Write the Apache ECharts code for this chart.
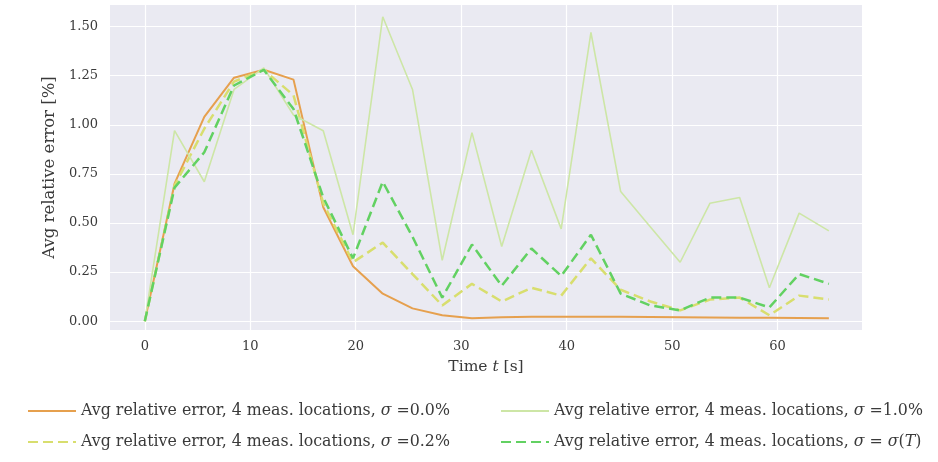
<!DOCTYPE html>
<html>
<head>
<meta charset="utf-8">
<script src="https://cdn.jsdelivr.net/npm/echarts@6/dist/echarts.min.js"></script>
<style>
html,body{margin:0;padding:0;background:#fff;}
#chart{width:938px;height:462px;}
</style>
</head>
<body>
<div id="chart"></div>
<script>
// Time axis (s)
var times = [0, 2.82, 5.64, 8.46, 11.28, 14.1, 16.92, 19.74, 22.56, 25.38, 28.2, 31.02,
             33.84, 36.66, 39.48, 42.3, 45.12, 47.94, 50.76, 53.58, 56.4, 59.22, 62.04, 64.86];
// Avg relative error [%]
var err00 = [0, 0.70, 1.04, 1.24, 1.28, 1.23, 0.58, 0.28, 0.14, 0.065, 0.03, 0.015,
             0.02, 0.022, 0.022, 0.022, 0.022, 0.021, 0.02, 0.019, 0.018, 0.017, 0.016, 0.015];
var err02 = [0, 0.69, 0.98, 1.22, 1.28, 1.15, 0.60, 0.30, 0.40, 0.24, 0.08, 0.19,
             0.10, 0.17, 0.13, 0.32, 0.16, 0.10, 0.055, 0.11, 0.12, 0.03, 0.13, 0.11];
var err10 = [0, 0.97, 0.71, 1.18, 1.29, 1.05, 0.97, 0.44, 1.55, 1.18, 0.31, 0.96,
             0.38, 0.87, 0.47, 1.47, 0.66, 0.48, 0.30, 0.60, 0.63, 0.17, 0.55, 0.46];
var errT  = [0, 0.68, 0.86, 1.20, 1.28, 1.08, 0.63, 0.32, 0.71, 0.43, 0.12, 0.39,
             0.18, 0.37, 0.23, 0.44, 0.14, 0.08, 0.055, 0.12, 0.12, 0.07, 0.24, 0.19];
var xTicks = [0, 10, 20, 30, 40, 50, 60];
var yTicks = [0, 0.25, 0.5, 0.75, 1.0, 1.25, 1.5];
var names = [
  'Avg relative error, 4 meas. locations, {i|σ} =0.0%',
  'Avg relative error, 4 meas. locations, {i|σ} =0.2%',
  'Avg relative error, 4 meas. locations, {i|σ} =1.0%',
  'Avg relative error, 4 meas. locations, {i|σ} = {i|σ}({i|T})'
];

function pairs(v){ return times.map(function(t,k){ return [t, v[k]]; }); }

var FONT = 'DejaVu Serif';
var TXT = '#3a3a3a';
var LFS = 15.8;
var legendText = {
  fontFamily: FONT, fontSize: LFS, color: TXT,
  rich: { i: { fontFamily: FONT, fontStyle: 'italic', fontSize: LFS, color: TXT } }
};

var chart = echarts.init(document.getElementById('chart'), null, {renderer: 'canvas'});
chart.setOption({
  animation: false,
  backgroundColor: '#ffffff',
  grid: { left: 110, right: 76, top: 5, bottom: 132, show: true, backgroundColor: '#eaeaf2', borderWidth: 0 },
  xAxis: {
    type: 'value', min: -3.3, max: 68,
    name: 'Time {i|t} [s]', nameLocation: 'middle', nameGap: 29,
    nameTextStyle: { fontFamily: FONT, fontSize: 15.5, color: TXT, rich: { i: { fontFamily: FONT, fontStyle: 'italic', fontSize: 15.5, color: TXT } } },
    axisLine: { show: false }, axisTick: { show: false, customValues: xTicks },
    axisLabel: { customValues: xTicks, fontFamily: FONT, fontSize: 13, color: TXT, margin: 10 },
    splitLine: { show: true, lineStyle: { color: '#ffffff', width: 1.2 } }
  },
  yAxis: {
    type: 'value', min: -0.045, max: 1.61,
    name: 'Avg relative error [%]', nameLocation: 'middle', nameGap: 52,
    nameTextStyle: { fontFamily: FONT, fontSize: 16.5, color: TXT },
    axisLine: { show: false }, axisTick: { show: false, customValues: yTicks },
    axisLabel: { customValues: yTicks, fontFamily: FONT, fontSize: 13, color: TXT, margin: 12,
      formatter: function(v){ return v.toFixed(2); } },
    splitLine: { show: true, lineStyle: { color: '#ffffff', width: 1.2 } }
  },
  legend: [
    { data: [names[0], names[1]], orient: 'vertical', left: 22, top: 398, itemWidth: 48, itemHeight: 14, itemGap: 15,
      itemStyle: { opacity: 0 }, textStyle: legendText },
    { data: [names[2], names[3]], orient: 'vertical', left: 495, top: 398, itemWidth: 48, itemHeight: 14, itemGap: 15,
      itemStyle: { opacity: 0 }, textStyle: legendText }
  ],
  series: [
    { name: names[0], type: 'line', data: pairs(err00), symbol: 'none', z: 2,
      lineStyle: { color: '#e6a04e', width: 2 }, itemStyle: { color: '#e6a04e' } },
    { name: names[1], type: 'line', data: pairs(err02), symbol: 'none', z: 3,
      lineStyle: { color: '#d8de6e', width: 2.5, type: [10, 5] }, itemStyle: { color: '#d8de6e' } },
    { name: names[2], type: 'line', data: pairs(err10), symbol: 'none', z: 4,
      lineStyle: { color: '#cde6a6', width: 1.6 }, itemStyle: { color: '#cde6a6' } },
    { name: names[3], type: 'line', data: pairs(errT), symbol: 'none', z: 5,
      lineStyle: { color: '#62d162', width: 2.5, type: [10, 5] }, itemStyle: { color: '#62d162' } }
  ]
});
</script>
</body>
</html>
